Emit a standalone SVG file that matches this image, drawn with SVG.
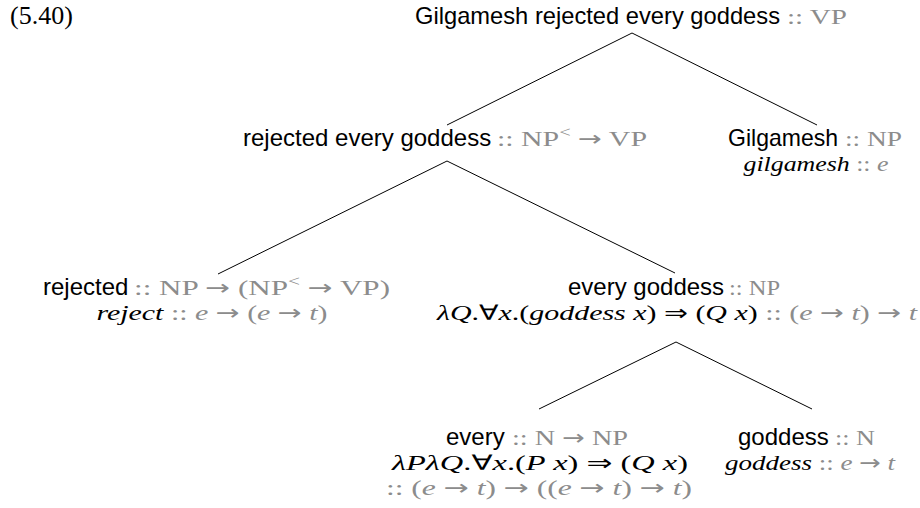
<svg xmlns="http://www.w3.org/2000/svg" width="920" height="508" viewBox="0 0 920 508">
<style>
text{font-size:22px;text-anchor:middle}
.st{text-anchor:start}
.en{text-anchor:end}
.sf{font-family:"Liberation Sans",Arial,sans-serif;font-size:24px;fill:#000}
.m{font-family:"Liberation Serif","Times New Roman",serif;fill:#000}
.a{font-family:"DejaVu Sans",sans-serif;font-size:21px}
.g{fill:#8c8c8c}
.i{font-style:italic}
.sup{font-size:15px}
.edge{stroke:#000;stroke-width:1;fill:none}
</style>
<rect width="920" height="508" fill="#fff"/>
<text class="m st" x="10" y="24" style="font-size:26px">(5.40)</text>
<g id="edges">
<path class="edge" d="M447,125 L632,33 L817,125"/>
<path class="edge" d="M218,274 L447,161 L675,273"/>
<path class="edge" d="M539,409 L676,342 L812,409"/>
</g>
<g id="n-root">
<text class="sf st" x="415" y="24" textLength="365" lengthAdjust="spacingAndGlyphs">Gilgamesh rejected every goddess</text>
<text class="m g st" x="787" y="24" textLength="60" lengthAdjust="spacingAndGlyphs">:: VP</text>
</g>
<g id="n-rejected-every-goddess">
<text class="sf st" x="243" y="146">rejected every goddess</text>
<text class="m g st" x="497" y="146" textLength="150" lengthAdjust="spacingAndGlyphs">:: NP<tspan class="sup" dy="-9">&lt;</tspan><tspan dy="9"> </tspan><tspan class="a">→</tspan> VP</text>
</g>
<g id="n-gilgamesh">
<text class="sf st" x="728" y="146" textLength="110" lengthAdjust="spacingAndGlyphs">Gilgamesh</text>
<text class="m g st" x="845" y="146" textLength="57" lengthAdjust="spacingAndGlyphs">:: NP</text>
<text x="816" y="171" textLength="145" lengthAdjust="spacingAndGlyphs"><tspan class="m i">gilgamesh</tspan><tspan class="m g"> :: </tspan><tspan class="m g i">e</tspan></text>
</g>
<g id="n-rejected">
<text class="sf st" x="43" y="295">rejected</text>
<text class="m g st" x="134" y="295" textLength="256" lengthAdjust="spacingAndGlyphs">:: NP <tspan class="a">→</tspan> (NP<tspan class="sup" dy="-9">&lt;</tspan><tspan dy="9"> </tspan><tspan class="a">→</tspan> VP)</text>
<text x="212" y="320" textLength="231" lengthAdjust="spacingAndGlyphs"><tspan class="m i">reject</tspan><tspan class="m g"> :: </tspan><tspan class="m g i">e</tspan><tspan class="m g"> </tspan><tspan class="m g a">→</tspan><tspan class="m g"> (</tspan><tspan class="m g i">e</tspan><tspan class="m g"> </tspan><tspan class="m g a">→</tspan><tspan class="m g"> </tspan><tspan class="m g i">t</tspan><tspan class="m g">)</tspan></text>
</g>
<g id="n-every-goddess">
<text class="sf st" x="568" y="295">every goddess</text>
<text class="m g st" x="729" y="295" textLength="51" lengthAdjust="spacingAndGlyphs">:: NP</text>
<text x="677" y="320" textLength="480" lengthAdjust="spacingAndGlyphs"><tspan class="m i">λQ</tspan><tspan class="m">.</tspan><tspan class="m a">∀</tspan><tspan class="m i">x</tspan><tspan class="m">.(</tspan><tspan class="m i">goddess x</tspan><tspan class="m">) </tspan><tspan class="m a">⇒</tspan><tspan class="m"> (</tspan><tspan class="m i">Q x</tspan><tspan class="m">)</tspan><tspan class="m g"> :: (</tspan><tspan class="m g i">e</tspan><tspan class="m g"> </tspan><tspan class="m g a">→</tspan><tspan class="m g"> </tspan><tspan class="m g i">t</tspan><tspan class="m g">) </tspan><tspan class="m g a">→</tspan><tspan class="m g"> </tspan><tspan class="m g i">t</tspan></text>
</g>
<g id="n-every">
<text class="sf st" x="446" y="445">every</text>
<text class="m g st" x="512" y="445" textLength="116" lengthAdjust="spacingAndGlyphs">:: N <tspan class="a">→</tspan> NP</text>
<text x="540" y="470" textLength="296" lengthAdjust="spacingAndGlyphs"><tspan class="m i">λPλQ</tspan><tspan class="m">.</tspan><tspan class="m a">∀</tspan><tspan class="m i">x</tspan><tspan class="m">.(</tspan><tspan class="m i">P x</tspan><tspan class="m">) </tspan><tspan class="m a">⇒</tspan><tspan class="m"> (</tspan><tspan class="m i">Q x</tspan><tspan class="m">)</tspan></text>
<text x="539" y="495" textLength="306" lengthAdjust="spacingAndGlyphs"><tspan class="m g">:: (</tspan><tspan class="m g i">e</tspan><tspan class="m g"> </tspan><tspan class="m g a">→</tspan><tspan class="m g"> </tspan><tspan class="m g i">t</tspan><tspan class="m g">) </tspan><tspan class="m g a">→</tspan><tspan class="m g"> ((</tspan><tspan class="m g i">e</tspan><tspan class="m g"> </tspan><tspan class="m g a">→</tspan><tspan class="m g"> </tspan><tspan class="m g i">t</tspan><tspan class="m g">) </tspan><tspan class="m g a">→</tspan><tspan class="m g"> </tspan><tspan class="m g i">t</tspan><tspan class="m g">)</tspan></text>
</g>
<g id="n-goddess">
<text class="sf st" x="738" y="445">goddess</text>
<text class="m g st" x="835" y="445" textLength="40" lengthAdjust="spacingAndGlyphs">:: N</text>
<text x="810" y="470" textLength="170" lengthAdjust="spacingAndGlyphs"><tspan class="m i">goddess</tspan><tspan class="m g"> :: </tspan><tspan class="m g i">e</tspan><tspan class="m g"> </tspan><tspan class="m g a">→</tspan><tspan class="m g"> </tspan><tspan class="m g i">t</tspan></text>
</g>
</svg>
